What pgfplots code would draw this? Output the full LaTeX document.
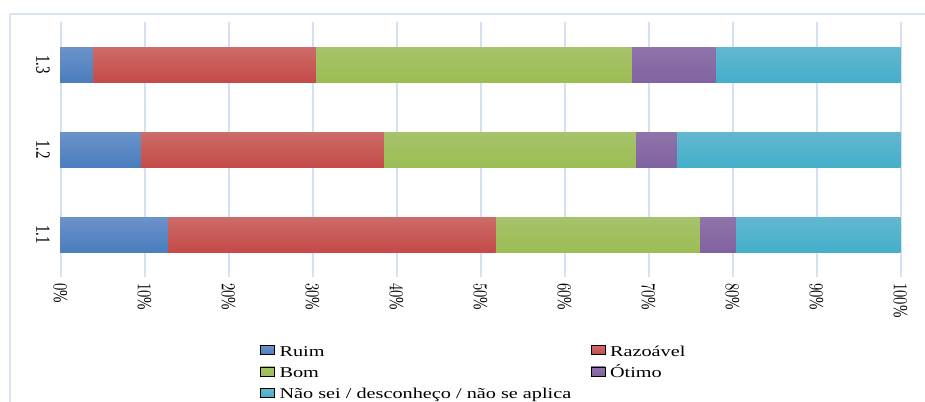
\documentclass[border=0pt]{standalone}
\usepackage{fontspec}
\setmainfont{Liberation Serif}
\newfontfamily\legfont[FakeStretch=1.35]{Liberation Serif}
\usepackage{graphicx}
\usepackage{pgfplots}
\usepackage{pgfplotstable}
\pgfplotsset{compat=1.18}

\definecolor{RuimT}{RGB}{108,146,201}
\definecolor{RuimB}{RGB}{74,126,190}
\definecolor{RazT}{RGB}{205,108,105}
\definecolor{RazB}{RGB}{196,74,71}
\definecolor{BomT}{RGB}{167,194,108}
\definecolor{BomB}{RGB}{155,190,83}
\definecolor{OtiT}{RGB}{143,116,170}
\definecolor{OtiB}{RGB}{128,98,160}
\definecolor{NaoT}{RGB}{99,183,207}
\definecolor{NaoB}{RGB}{68,175,203}
\definecolor{gridc}{RGB}{212,225,245}
\definecolor{framec}{RGB}{218,227,243}

% shares in % per item
\pgfplotstableread{
y Ruim Raz  Bom  Oti  Nao
1 12.8 39.0 24.3 4.3  19.6
2 9.5  29.0 30.0 4.8  26.7
3 3.8  26.6 37.6 10.0 22.0
}\datatable

\pgfplotsset{
  seg/.style={xbar, bar shift=0pt, bar width=26.25pt, draw=none, forget plot},
}

\begin{document}
\fontsize{11.25}{13.5}\selectfont
\begin{tikzpicture}
\begin{axis}[
  scale only axis,
  width=630pt, height=191.25pt,
  xmin=0, xmax=100, ymin=0.5, ymax=3.5,
  axis line style={draw=none},
  major tick length=0pt,
  xmajorgrids, ymajorgrids=false,
  grid style={gridc, line width=1.5pt},
  xtick={0,10,...,100},
  xticklabel={\scalebox{1}[1.35]{\pgfmathprintnumber{\tick}\%}},
  xticklabel style={yshift=-4.5pt, rotate=-90, anchor=west, inner sep=0pt},
  ytick={1,2,3},
  yticklabels={\scalebox{1}[1.35]{1.1},\scalebox{1}[1.35]{1.2},\scalebox{1}[1.35]{1.3}},
  yticklabel style={xshift=-7.9pt, rotate=-90, anchor=north, inner sep=0pt},
  legend columns=2,
  legend cell align=left,
  legend style={draw=none, fill=none, inner sep=0pt,
    at={(axis description cs:0.2375,-0.2654)}, anchor=north west,
    font=\legfont, row sep=4.5pt,
    nodes={inner sep=0.5pt, text height=8pt, text depth=2.5pt},
    /tikz/every odd column/.append style={column sep=3pt}},
  legend image code/.code={\fill[#1] (0pt,-1.5pt) rectangle (10.5pt,5.25pt);},
]
% each bar is drawn on its own (cumulative, longest first) so that it gets its own shading
\pgfplotsinvokeforeach{1,2,3}{
  \addplot[seg, top color=NaoT, bottom color=NaoB, restrict y to domain=#1:#1]
    table[y=y, x expr=\thisrow{Ruim}+\thisrow{Raz}+\thisrow{Bom}+\thisrow{Oti}+\thisrow{Nao}] {\datatable};
  \addplot[seg, top color=OtiT, bottom color=OtiB, restrict y to domain=#1:#1]
    table[y=y, x expr=\thisrow{Ruim}+\thisrow{Raz}+\thisrow{Bom}+\thisrow{Oti}] {\datatable};
  \addplot[seg, top color=BomT, bottom color=BomB, restrict y to domain=#1:#1]
    table[y=y, x expr=\thisrow{Ruim}+\thisrow{Raz}+\thisrow{Bom}] {\datatable};
  \addplot[seg, top color=RazT, bottom color=RazB, restrict y to domain=#1:#1]
    table[y=y, x expr=\thisrow{Ruim}+\thisrow{Raz}] {\datatable};
  \addplot[seg, top color=RuimT, bottom color=RuimB, restrict y to domain=#1:#1]
    table[y=y, x=Ruim] {\datatable};
}
\addlegendimage{top color=RuimT, bottom color=RuimB}
\addlegendentry{\makebox[233pt][l]{Ruim}}
\addlegendimage{top color=RazT, bottom color=RazB}
\addlegendentry{Razoável}
\addlegendimage{top color=BomT, bottom color=BomB}
\addlegendentry{\makebox[233pt][l]{Bom}}
\addlegendimage{top color=OtiT, bottom color=OtiB}
\addlegendentry{Ótimo}
\addlegendimage{top color=NaoT, bottom color=NaoB}
\addlegendentry{Não sei / desconheço / não se aplica}
\end{axis}
\draw[framec, line width=1pt] (-37.9pt,-120pt) -- (-37.9pt,197.25pt) -- (680pt,197.25pt);
\pgfresetboundingbox
\path[use as bounding box] (-45.4pt,-93pt) rectangle (648.35pt,207.75pt);
\end{tikzpicture}
\end{document}
